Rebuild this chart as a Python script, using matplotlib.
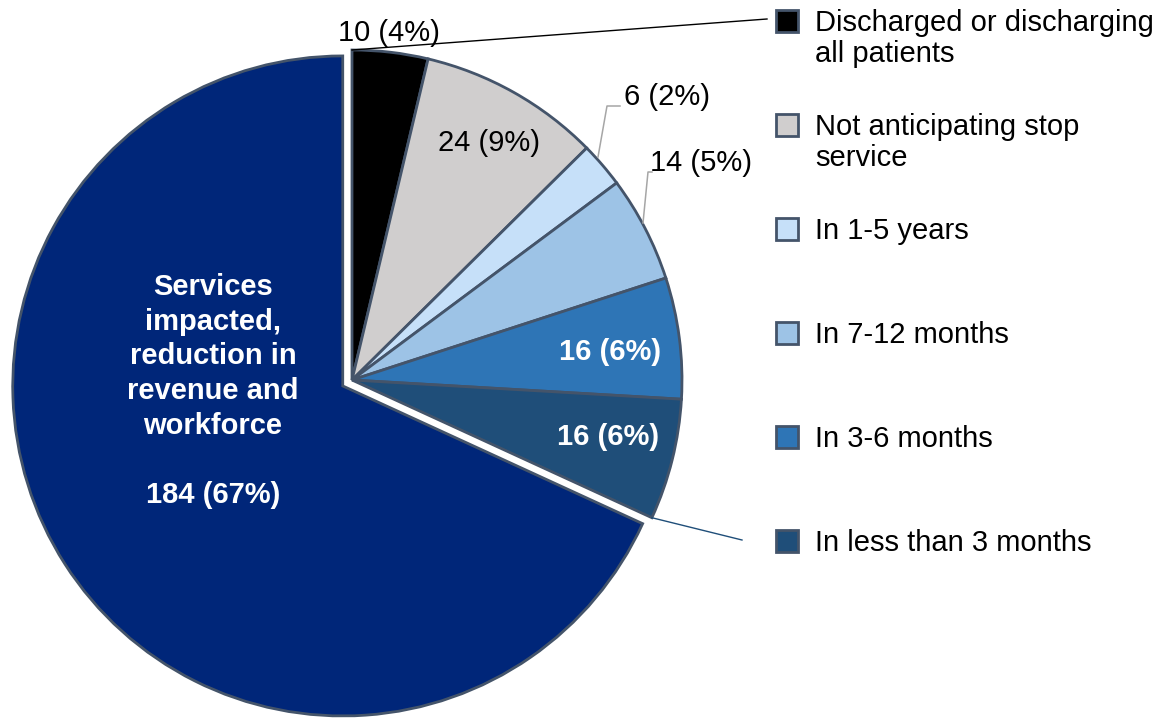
import matplotlib
matplotlib.use("Agg")
import matplotlib.pyplot as plt
from matplotlib.patches import Rectangle
import numpy as np

plt.rcParams["font.family"] = ["Liberation Sans", "DejaVu Sans"]

# Survey responses: expected impact on the service
categories = [
    "Discharged or discharging\nall patients",
    "Not anticipating stop\nservice",
    "In 1-5 years",
    "In 7-12 months",
    "In 3-6 months",
    "In less than 3 months",
    "Services\nimpacted,\nreduction in\nrevenue and\nworkforce",
]
counts = [10, 24, 6, 14, 16, 16, 184]
percent_labels = [4, 9, 2, 5, 6, 6, 67]
colors = ["#000000", "#D0CECE", "#C6E0F9", "#9DC3E6", "#2E75B6", "#1F4E79", "#002679"]

W, H = 1159, 719
EDGE = "#44546A"
FS = 21


def px(x, y):
    """Pixel position (origin top-left) -> axes data coordinates."""
    return x, H - y


fig = plt.figure(figsize=(W / 100, H / 100), dpi=100)
ax = fig.add_axes([0, 0, 1, 1])

cx, cy = px(352, 380)
R = 330
explode = [0, 0, 0, 0, 0, 0, 11]

wedges, _ = ax.pie(
    counts,
    colors=colors,
    startangle=90,
    counterclock=False,
    radius=R,
    center=(cx, cy),
    explode=explode,
    wedgeprops=dict(edgecolor=EDGE, linewidth=2.0),
)
ax.set_xlim(0, W)
ax.set_ylim(0, H)
ax.set_aspect("equal")
ax.axis("off")

labels = [f"{c} ({p}%)" for c, p in zip(counts, percent_labels)]

# value labels
ax.text(*px(389, 33), labels[0], fontsize=FS, ha="center", va="center", color="black")
ax.text(*px(489, 143), labels[1], fontsize=FS, ha="center", va="center", color="black")
ax.text(*px(667, 97), labels[2], fontsize=FS, ha="center", va="center", color="black")
ax.text(*px(701, 163), labels[3], fontsize=FS, ha="center", va="center", color="black")
ax.text(*px(610, 352), labels[4], fontsize=FS, ha="center", va="center",
        color="white", fontweight="bold")
ax.text(*px(608, 437), labels[5], fontsize=FS, ha="center", va="center",
        color="white", fontweight="bold")
ax.text(*px(213, 391), categories[6] + "\n\n" + labels[6], fontsize=FS,
        ha="center", va="center", multialignment="center", color="white",
        fontweight="bold", linespacing=1.3)

# leader lines for the small outside labels
lead = "#A6A6A6"
ax.plot(*zip(px(598, 157), px(607, 106), px(620, 106)), color=lead, lw=1.1)
ax.plot(*zip(px(643, 223), px(648, 172), px(652, 172)), color=lead, lw=1.1)

# legend
leg_x = 776
leg_y = [21, 125, 229, 333, 437, 541]
sq = 22
for i, (name, col) in enumerate(zip(categories[:6], colors[:6])):
    x0, yc = leg_x, leg_y[i]
    ax.add_patch(Rectangle(px(x0, yc + sq / 2), sq, sq, facecolor=col,
                           edgecolor=EDGE, linewidth=2.0))
    for j, line in enumerate(name.split("\n")):
        ax.text(*px(815, yc + 10 + j * 31), line, fontsize=FS, ha="left",
                va="baseline", color="black")

# connector lines from legend to the first and sixth wedges
top_pt = (cx, cy + R)
ax.plot([top_pt[0], px(767, 19)[0]], [top_pt[1], px(767, 19)[1]], color="black", lw=1.0)
ang = np.deg2rad(min(wedges[5].theta1, wedges[5].theta2))
end_pt = (cx + R * np.cos(ang), cy + R * np.sin(ang))
ax.plot([end_pt[0], px(742, 540)[0]], [end_pt[1], px(742, 540)[1]], color="#1F4E79", lw=1.0)

fig.savefig("out.png", dpi=100)
